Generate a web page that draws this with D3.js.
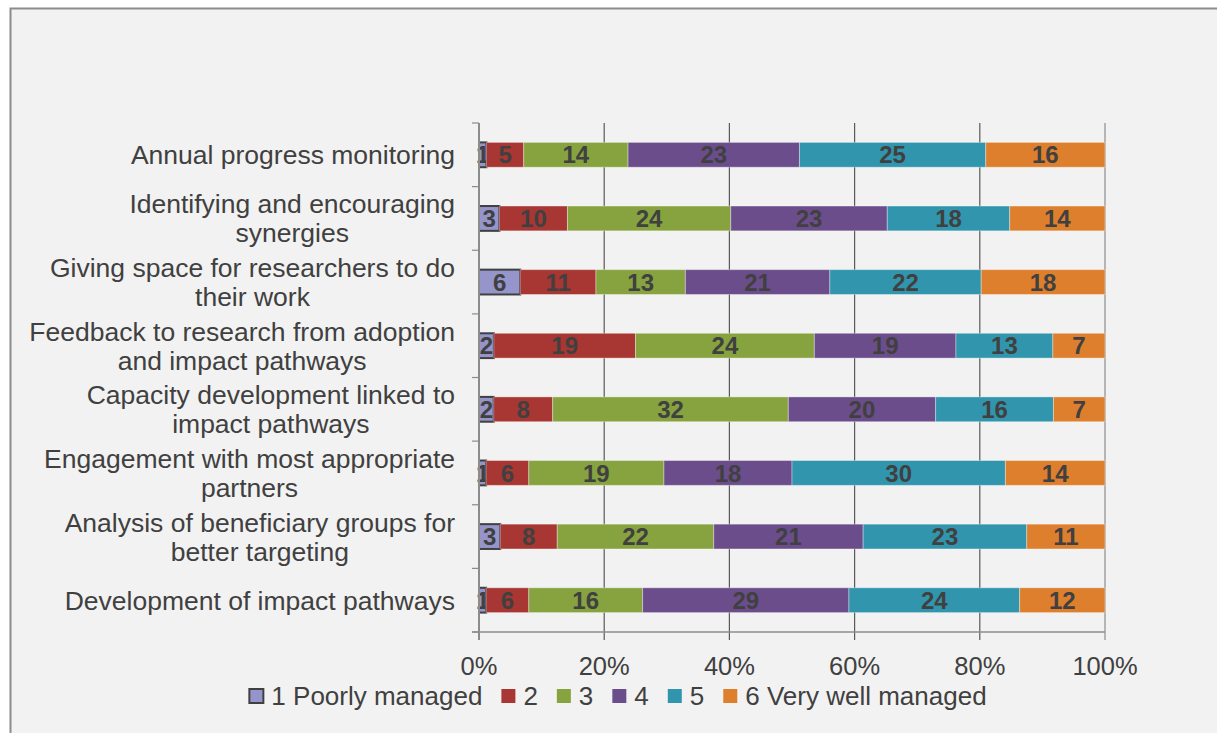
<!DOCTYPE html>
<html>
<head>
<meta charset="utf-8">
<script src="https://cdn.jsdelivr.net/npm/d3@7"></script>
<style>
  html, body { margin: 0; padding: 0; background: #ffffff; }
  svg { display: block; font-family: "Liberation Sans", Arial, sans-serif; }
</style>
</head>
<body>
<div class="chart"></div>
<script>
  // categories, top to bottom
  const categories = [
    'Annual progress monitoring',
    'Identifying and encouraging synergies',
    'Giving space for researchers to do their work',
    'Feedback to research from adoption and impact pathways',
    'Capacity development linked to impact pathways',
    'Engagement with most appropriate partners',
    'Analysis of beneficiary groups for better targeting',
    'Development of impact pathways'
  ]
  // line breaks as in the picture
  const categoryLines = [
    ['Annual progress monitoring'],
    ['Identifying and encouraging', 'synergies'],
    ['Giving space for researchers to do', 'their work'],
    ['Feedback to research from adoption', 'and impact pathways'],
    ['Capacity development linked to', 'impact pathways'],
    ['Engagement with most appropriate', 'partners'],
    ['Analysis of beneficiary groups for', 'better targeting'],
    ['Development of impact pathways']
  ]
  const seriesNames = ['1 Poorly managed', '2', '3', '4', '5', '6 Very well managed']
  const s1 = [1, 3, 6, 2, 2, 1, 3, 1]
  const s2 = [5, 10, 11, 19, 8, 6, 8, 6]
  const s3 = [14, 24, 13, 24, 32, 19, 22, 16]
  const s4 = [23, 23, 21, 19, 20, 18, 21, 29]
  const s5 = [25, 18, 22, 13, 16, 30, 23, 24]
  const s6 = [16, 14, 18, 7, 7, 14, 11, 12]
  const xTicks = [0, 0.2, 0.4, 0.6, 0.8, 1]

  const colors = ['#9595cb', '#a83632', '#86a33f', '#6b4d8c', '#3195ae', '#de7f2d']
  const allSeries = [s1, s2, s3, s4, s5, s6]

  const W = 1217, H = 733
  const margin = {left: 479, right: 112, top: 123, bottom: 101}
  const textColor = '#404040'

  let svg = d3.select('.chart').append('svg')
    .attr('width', W)
    .attr('height', H)

  // chart frame
  svg.append('rect')
    .attr('x', 10.5).attr('y', 8.5)
    .attr('width', W + 20).attr('height', H + 20)
    .style('fill', '#f2f2f2')
    .style('stroke', '#8c8c8c')
    .style('stroke-width', 2)

  // stack data, percent of row total
  let rows = categories.map((c, i) => {
    let row = {category: c}
    let total = d3.sum(allSeries, s => s[i])
    seriesNames.forEach((name, k) => {
      row[name] = allSeries[k][i] / total
      row['raw' + k] = allSeries[k][i]
    })
    return row
  })
  let stacked = d3.stack().keys(seriesNames)(rows)

  let x = d3.scaleLinear()
    .domain([0, 1])
    .range([margin.left, W - margin.right])
  let y = d3.scaleBand()
    .domain(categories)
    .range([margin.top, H - margin.bottom])
    .paddingInner(0.61)
    .paddingOuter(0.305)

  let plotBottom = H - margin.bottom

  // vertical grid lines
  svg.append('g').selectAll('line')
    .data(xTicks.slice(1))
    .enter()
    .append('line')
    .attr('x1', d => x(d)).attr('x2', d => x(d))
    .attr('y1', margin.top).attr('y2', plotBottom + 8)
    .style('stroke', (d, i) => i === xTicks.length - 2 ? '#8c8c8c' : '#595959')
    .style('stroke-width', 1.2)

  // bars
  let groups = svg.append('g').selectAll('g')
    .data(stacked)
    .enter()
    .append('g')
    .style('fill', (d, i) => colors[i])

  groups.selectAll('rect')
    .data(d => d.map(v => ({v, key: d.key, index: d.index})))
    .enter()
    .append('rect')
    .attr('x', d => x(d.v[0]))
    .attr('y', d => y(d.v.data.category))
    .attr('width', d => x(d.v[1]) - x(d.v[0]))
    .attr('height', y.bandwidth())
    .style('stroke', d => d.index === 0 ? '#404040' : 'rgba(255,255,255,0.35)')
    .style('stroke-width', d => d.index === 0 ? 2 : 1)

  // value labels
  groups.selectAll('text')
    .data(d => d.map(v => ({v, index: d.index})))
    .enter()
    .append('text')
    .attr('x', d => (x(d.v[0]) + x(d.v[1])) / 2)
    .attr('y', d => y(d.v.data.category) + y.bandwidth() / 2)
    .attr('dy', '0.36em')
    .attr('text-anchor', 'middle')
    .style('font-size', '24px')
    .style('font-weight', 'bold')
    .style('fill', textColor)
    .text(d => d.v.data['raw' + d.index])

  // y axis
  let yAxis = svg.append('g')
  yAxis.append('line')
    .attr('x1', margin.left).attr('x2', margin.left)
    .attr('y1', margin.top).attr('y2', plotBottom + 8)
    .style('stroke', '#8c8c8c').style('stroke-width', 2)
  let step = y.step()
  yAxis.selectAll('line.tick')
    .data(d3.range(categories.length + 1))
    .enter()
    .append('line')
    .attr('class', 'tick')
    .attr('x1', margin.left - 7).attr('x2', margin.left)
    .attr('y1', d => margin.top + d * step).attr('y2', d => margin.top + d * step)
    .style('stroke', '#8c8c8c').style('stroke-width', 1.2)

  // x axis baseline
  svg.append('line')
    .attr('x1', margin.left - 7).attr('x2', x(1))
    .attr('y1', plotBottom).attr('y2', plotBottom)
    .style('stroke', '#8c8c8c').style('stroke-width', 1.5)

  // category labels
  let labelRight = 455
  categoryLines.forEach((lines, i) => {
    let cy = y(categories[i]) + y.bandwidth() / 2
    let t = svg.append('text')
      .style('font-size', '26.5px')
      .style('fill', textColor)
      .attr('text-anchor', 'middle')
    let lineH = 29
    lines.forEach((ln, j) => {
      t.append('tspan')
        .attr('y', cy + (j - (lines.length - 1) / 2) * lineH)
        .attr('dy', '0.36em')
        .text(ln)
    })
    let widest = d3.max(t.selectAll('tspan').nodes(), n => n.getComputedTextLength())
    t.selectAll('tspan').attr('x', labelRight - widest / 2)
  })

  // x tick labels
  svg.append('g').selectAll('text')
    .data(xTicks)
    .enter()
    .append('text')
    .attr('x', d => x(d))
    .attr('y', 666)
    .attr('dy', '0.36em')
    .attr('text-anchor', 'middle')
    .style('font-size', '25.5px')
    .style('fill', textColor)
    .text(d => d3.format('.0%')(d))

  // legend
  let legend = svg.append('g')
  let lx = 0
  seriesNames.forEach((name, i) => {
    let item = legend.append('g').attr('transform', `translate(${lx},0)`)
    item.append('rect')
      .attr('x', 0).attr('y', -7)
      .attr('width', 14).attr('height', 14)
      .style('fill', colors[i])
      .style('stroke', i === 0 ? '#404040' : 'none')
      .style('stroke-width', 2)
    let t = item.append('text')
      .attr('x', 22)
      .attr('dy', '0.36em')
      .style('font-size', '26px')
      .style('fill', textColor)
      .text(name)
    lx += 22 + t.node().getComputedTextLength() + 19
  })
  let legendW = lx - 19
  legend.attr('transform', `translate(${618 - legendW / 2},696)`)
</script>
</body>
</html>
